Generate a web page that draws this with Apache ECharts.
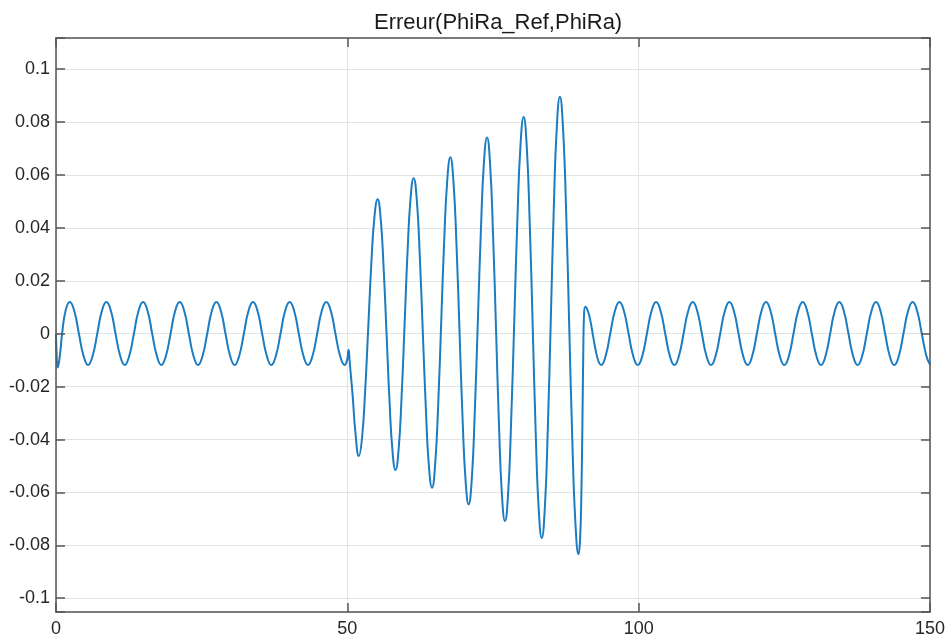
<!DOCTYPE html>
<html>
<head>
<meta charset="utf-8">
<title>Erreur(PhiRa_Ref,PhiRa)</title>
<script src="https://cdn.jsdelivr.net/npm/echarts@6/dist/echarts.min.js"></script>
<style>
  html, body { margin: 0; padding: 0; background: #ffffff; }
  #chart { width: 952px; height: 640px; }
</style>
</head>
<body>
<div id="chart"></div>
<script>
// Chart title and axis ticks
const chartTitle = 'Erreur(PhiRa_Ref,PhiRa)';
const xTicks = [0, 50, 100, 150];
const yTicks = [-0.1, -0.08, -0.06, -0.04, -0.02, 0, 0.02, 0.04, 0.06, 0.08, 0.1];
const xRange = [0, 150];
const yRange = [-0.1052, 0.1118];

// Error signal, t from 0 to ~50 (start-up and steady oscillation)
const t1 = [0, 0.10, 0.30, 0.65, 1.05, 1.65,
  2.36, 3.15, 3.93, 4.72, 5.50, 6.29, 7.08, 7.86,
  8.65, 9.44, 10.22, 11.01, 11.80, 12.58, 13.37, 14.15,
  14.94, 15.73, 16.51, 17.30, 18.09, 18.87, 19.66, 20.44,
  21.23, 22.02, 22.80, 23.59, 24.38, 25.16, 25.95, 26.73,
  27.52, 28.31, 29.09, 29.88, 30.67, 31.45, 32.24, 33.02,
  33.81, 34.60, 35.38, 36.17, 36.96, 37.74, 38.53, 39.31,
  40.10, 40.89, 41.67, 42.46, 43.25, 44.03, 44.82, 45.60,
  46.39, 47.18, 47.96, 48.75, 49.54];
const e1 = [0, -0.0075, -0.0128, -0.0085, 0, 0.0088,
  0.0120, 0.0085, 0, -0.0083, -0.0118, -0.0083, 0, 0.0085,
  0.0120, 0.0085, 0, -0.0083, -0.0118, -0.0083, 0, 0.0085,
  0.0120, 0.0085, 0, -0.0083, -0.0118, -0.0083, 0, 0.0085,
  0.0120, 0.0085, 0, -0.0083, -0.0118, -0.0083, 0, 0.0085,
  0.0120, 0.0085, 0, -0.0083, -0.0118, -0.0083, 0, 0.0085,
  0.0120, 0.0085, 0, -0.0083, -0.0118, -0.0083, 0, 0.0085,
  0.0120, 0.0085, 0, -0.0083, -0.0118, -0.0083, 0, 0.0085,
  0.0120, 0.0085, 0, -0.0083, -0.0118];

// Error signal, t from ~50 to ~93 (growing burst)
const t2 = [49.95, 50.15, 50.22, 50.40, 50.62, 50.90, 51.40,
  51.97, 52.51, 53.05, 53.59, 54.12, 54.66,
  55.20, 55.71, 56.22, 56.74, 57.25, 57.76,
  58.27, 58.79, 59.31, 59.83, 60.34, 60.86,
  61.38, 61.91, 62.43, 62.96, 63.49, 64.01,
  64.54, 65.06, 65.59, 66.11, 66.63, 67.16,
  67.68, 68.20, 68.73, 69.25, 69.77, 70.30,
  70.82, 71.35, 71.87, 72.40, 72.93, 73.45,
  73.98, 74.49, 75.00, 75.52, 76.03, 76.54,
  77.05, 77.59, 78.12, 78.66, 79.19, 79.73,
  80.26, 80.78, 81.30, 81.82, 82.33, 82.85,
  83.37, 83.89, 84.41, 84.93, 85.44, 85.96,
  86.48, 87.01, 87.55, 88.08, 88.61, 89.15,
  89.68, 89.95, 90.18, 90.35, 90.50, 90.62,
  90.85, 91.30, 91.75, 92.20, 92.65, 93.10];
const e2 = [-0.0100, -0.0068, -0.0061, -0.0105, -0.0160, -0.0230, -0.0376,
  -0.0462, -0.0397, -0.0220, 0.0023, 0.0266, 0.0443,
  0.0508, 0.0439, 0.0252, -0.0004, -0.0259, -0.0446,
  -0.0515, -0.0441, -0.0239, 0.0037, 0.0312, 0.0514,
  0.0588, 0.0510, 0.0296, 0.0003, -0.0290, -0.0504,
  -0.0582, -0.0498, -0.0270, 0.0043, 0.0355, 0.0583,
  0.0667, 0.0579, 0.0339, 0.0011, -0.0317, -0.0557,
  -0.0645, -0.0552, -0.0298, 0.0049, 0.0395, 0.0649,
  0.0742, 0.0645, 0.0380, 0.0017, -0.0346, -0.0611,
  -0.0708, -0.0606, -0.0326, 0.0056, 0.0437, 0.0717,
  0.0819, 0.0712, 0.0421, 0.0024, -0.0374, -0.0665,
  -0.0772, -0.0660, -0.0355, 0.0062, 0.0479, 0.0784,
  0.0896, 0.0780, 0.0464, 0.0031, -0.0402, -0.0718,
  -0.0834, -0.0775, -0.0590, -0.0330, -0.0060, 0.0070,
  0.0102, 0.0085, 0.0045, -0.0012, -0.0065, -0.0104];

// Error signal, t from ~93 to 150 (steady oscillation again)
const t3 = [93.55, 94.34, 95.12, 95.91, 96.70, 97.48, 98.27, 99.05,
  99.84, 100.63, 101.41, 102.20, 102.99, 103.77, 104.56, 105.34,
  106.13, 106.92, 107.70, 108.49, 109.28, 110.06, 110.85, 111.63,
  112.42, 113.21, 113.99, 114.78, 115.57, 116.35, 117.14, 117.92,
  118.71, 119.50, 120.28, 121.07, 121.86, 122.64, 123.43, 124.21,
  125.00, 125.79, 126.57, 127.36, 128.15, 128.93, 129.72, 130.50,
  131.29, 132.08, 132.86, 133.65, 134.44, 135.22, 136.01, 136.79,
  137.58, 138.37, 139.15, 139.94, 140.73, 141.51, 142.30, 143.08,
  143.87, 144.66, 145.44, 146.23, 147.02, 147.80, 148.59, 149.37,
  150];
const e3 = [-0.0118, -0.0083, 0, 0.0085, 0.0120, 0.0085, 0, -0.0083,
  -0.0118, -0.0083, 0, 0.0085, 0.0120, 0.0085, 0, -0.0083,
  -0.0118, -0.0083, 0, 0.0085, 0.0120, 0.0085, 0, -0.0083,
  -0.0118, -0.0083, 0, 0.0085, 0.0120, 0.0085, 0, -0.0083,
  -0.0118, -0.0083, 0, 0.0085, 0.0120, 0.0085, 0, -0.0083,
  -0.0118, -0.0083, 0, 0.0085, 0.0120, 0.0085, 0, -0.0083,
  -0.0118, -0.0083, 0, 0.0085, 0.0120, 0.0085, 0, -0.0083,
  -0.0118, -0.0083, 0, 0.0085, 0.0120, 0.0085, 0, -0.0083,
  -0.0118, -0.0083, 0, 0.0085, 0.0120, 0.0085, 0, -0.0083,
  -0.0116];

const tAll = t1.concat(t2, t3);
const eAll = e1.concat(e2, e3);
const points = tAll.map((t, i) => [t, eAll[i]]);

const FONT = '"Liberation Sans", Arial, Helvetica, sans-serif';
const frameColor = '#555555';
const gridColor = '#e3e3e3';
const textColor = '#262626';

const isTick = (list, v) => list.some(t => Math.abs(t - v) < 1e-9);
const fmt = v => String(+v.toFixed(2));

const frameLine = { show: true, onZero: false, lineStyle: { color: frameColor, width: 1.5 } };
const frameTick = { show: true, inside: true, length: 9, lineStyle: { color: frameColor, width: 1.5 } };
const noLine = { show: false, onZero: false };

const chart = echarts.init(document.getElementById('chart'), null, { renderer: 'canvas' });
chart.setOption({
  animation: false,
  backgroundColor: '#ffffff',
  title: {
    text: chartTitle,
    left: 374,
    top: 12,
    padding: 0,
    textStyle: { fontFamily: FONT, fontSize: 22, fontWeight: 'normal', color: '#1a1a1a' }
  },
  grid: { left: 56, right: 22, top: 38, bottom: 28, outerBoundsMode: 'none', containLabel: false },
  xAxis: [
    {
      type: 'value', position: 'bottom', min: xRange[0], max: xRange[1], interval: 50, z: 3,
      axisLine: frameLine, axisTick: frameTick,
      axisLabel: {
        show: true, margin: 8, color: textColor, fontFamily: FONT, fontSize: 18,
        formatter: v => (isTick(xTicks, v) ? fmt(v) : '')
      },
      splitLine: { show: false }
    },
    {
      type: 'value', position: 'top', min: xRange[0], max: xRange[1], interval: 50, z: 3,
      axisLine: frameLine, axisTick: frameTick,
      axisLabel: { show: false }, splitLine: { show: false }
    },
    {
      type: 'value', position: 'bottom', min: xRange[0], max: xRange[1], interval: 50, z: 1,
      axisLine: noLine, axisTick: { show: false }, axisLabel: { show: false },
      splitLine: { show: true, lineStyle: { color: gridColor, width: 1 } }
    }
  ],
  yAxis: [
    {
      type: 'value', position: 'left', min: yRange[0], max: yRange[1],
      splitNumber: 11, minInterval: 0.02, maxInterval: 0.02, z: 3,
      axisLine: frameLine, axisTick: frameTick,
      axisLabel: {
        show: true, margin: 6, color: textColor, fontFamily: FONT, fontSize: 18,
        formatter: v => (isTick(yTicks, v) ? fmt(v) : '')
      },
      splitLine: { show: false }
    },
    {
      type: 'value', position: 'right', min: yRange[0], max: yRange[1],
      splitNumber: 11, minInterval: 0.02, maxInterval: 0.02, z: 3,
      axisLine: frameLine, axisTick: frameTick,
      axisLabel: { show: false }, splitLine: { show: false }
    },
    {
      type: 'value', position: 'left', min: yRange[0], max: yRange[1],
      splitNumber: 11, minInterval: 0.02, maxInterval: 0.02, z: 1,
      axisLine: noLine, axisTick: { show: false }, axisLabel: { show: false },
      splitLine: { show: true, lineStyle: { color: gridColor, width: 1 } }
    }
  ],
  series: [
    {
      name: chartTitle,
      type: 'line',
      xAxisIndex: 0,
      yAxisIndex: 0,
      data: points,
      smooth: 0.5,
      showSymbol: false,
      symbol: 'none',
      clip: true,
      z: 2,
      lineStyle: { color: '#1b7cc2', width: 2 }
    }
  ]
});
</script>
</body>
</html>
